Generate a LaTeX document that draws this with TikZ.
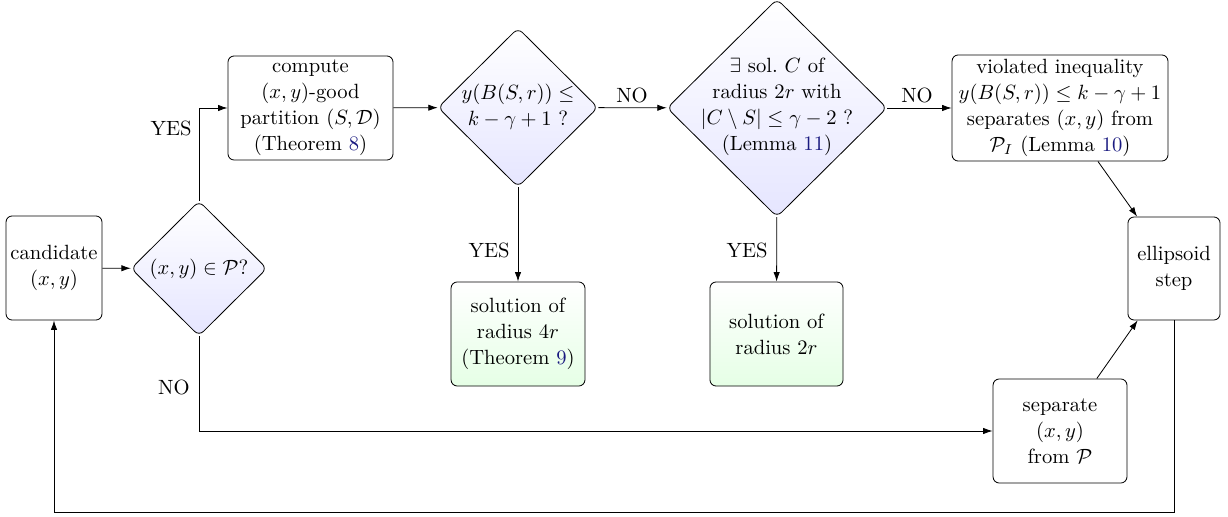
\documentclass[tikz,border=0pt]{standalone}
\usetikzlibrary{shapes.geometric,arrows.meta}
\definecolor{refblue}{rgb}{0.1,0.1,0.5}
\newcommand{\rf}[1]{\textcolor{refblue}{#1}}
\begin{document}
\begin{tikzpicture}[x=0.4854pt,y=-0.4854pt,
  every node/.style={font=\fontsize{10}{12.6}\selectfont},
  box/.style={draw,rectangle,rounded corners=3pt,align=center,inner sep=1pt,line width=0.4pt},
  sol/.style={box,top color=white,bottom color=green!10},
  dia/.style={draw,diamond,rounded corners=3pt,inner sep=0pt,top color=white,bottom color=blue!10,line width=0.4pt},
  dtext/.style={align=center,inner sep=0pt},
  lab/.style={inner sep=0pt},
  arr/.style={-{Latex[length=4.6pt,width=3.1pt]},line width=0.4pt}]
\useasboundingbox (0,0) rectangle (1228,517);
% nodes
\node[box,minimum width=46.6pt,minimum height=50.5pt] (cand) at (54,268) {candidate\\$(x,y)$};
\node[dia,minimum width=66pt,minimum height=65.5pt] (d1) at (199,268.5) {};
\node[dtext] (d1t) at (199,269) {$(x,y)\in\mathcal{P}$?};
\node[box,minimum width=80.1pt,minimum height=50.5pt] (comp) at (310.5,108) {compute\\$(x,y)$-good\\partition $(S,\mathcal{D})$\\(Theorem \rf{8})};
\node[dia,minimum width=77.7pt,minimum height=77.2pt] (d2) at (518,107.5) {};
\node[dtext] (d2t) at (518,107) {$y(B(S,r))\leq$\\$k-\gamma+1$ ?};
\node[dia,minimum width=106.8pt,minimum height=105.8pt] (d3) at (777,108) {};
\node[dtext] (d3t) at (777,107) {$\exists$ sol.\ $C$ of\\radius $2r$ with\\$|C\setminus S|\leq\gamma-2$ ?\\(Lemma \rf{11})};
\node[box,minimum width=104.8pt,minimum height=51.5pt] (viol) at (1060,108) {violated inequality\\$y(B(S,r))\leq k-\gamma+1$\\separates $(x,y)$ from\\$\mathcal{P}_I$ (Lemma \rf{10})};
\node[box,minimum width=44.7pt,minimum height=50pt] (ell) at (1174,268.5) {ellipsoid\\step};
\node[sol,minimum width=65pt,minimum height=50.5pt] (sol1) at (518,334) {solution of\\radius $4r$\\(Theorem \rf{9})};
\node[sol,minimum width=64.6pt,minimum height=50.5pt] (sol2) at (776.5,334) {solution of\\radius $2r$};
\node[box,minimum width=65pt,minimum height=50.5pt] (sep) at (1060,431) {separate\\$(x,y)$\\from $\mathcal{P}$};
% labels
\node[lab,anchor=east] (l1) at (192,128) {YES};
\node[lab,anchor=east] (l2) at (190,387) {NO};
\node[lab,anchor=east] (l3) at (510,250) {YES};
\node[lab] (l4) at (632,95) {NO};
\node[lab,anchor=east] (l5) at (768,250) {YES};
\node[lab] (l6) at (917,95) {NO};
\coordinate (bl) at (600,512);
% connectors
\draw[arr] (cand) -- (d1);
\draw[arr] (d1.north) |- (comp.west);
\draw[arr] (comp) -- (d2);
\draw[arr] (d2) -- (d3);
\draw[arr] (d3) -- (viol);
\draw[arr] (d2) -- (sol1);
\draw[arr] (d3) -- (sol2);
\draw[arr] (viol) -- (ell);
\draw[arr] (sep) -- (ell);
\draw[arr] (d1.south) |- (sep.west);
\draw[arr] (ell.south) -- (ell.south |- bl) -| (cand.south);
\end{tikzpicture}
\end{document}
